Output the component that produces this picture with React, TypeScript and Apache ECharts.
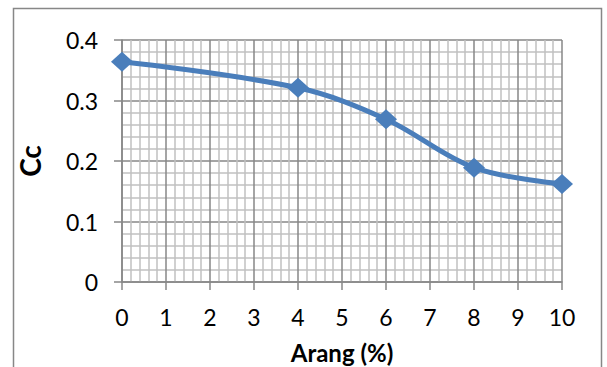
import React, { useEffect, useRef } from "react";
import * as echarts from "echarts";

const arang = [0, 4, 6, 8, 10];
const cc = [0.364, 0.321, 0.269, 0.189, 0.162];
const xTicks = [0, 10, 1];
const yTicks = [0, 0.4, 0.1];
const xName = "Arang (%)";
const yName = "Cc";

export default function App() {
  const ref = useRef<HTMLDivElement>(null);
  useEffect(() => {
    const chart = echarts.init(ref.current!, null, { renderer: "svg" });
    const font = "Lato, 'Open Sans', sans-serif";
    chart.setOption({
      animation: false,
      backgroundColor: "#ffffff",
      textStyle: { fontFamily: font },
      graphic: [
        {
          type: "rect",
          shape: { x: 13.5, y: 8.5, width: 588, height: 400 },
          style: { fill: "none", stroke: "#878787", lineWidth: 1.5 },
          silent: true,
        },
      ],
      grid: {
        left: 122,
        top: 40,
        right: 45,
        bottom: 85,
        containLabel: false,
        outerBoundsMode: "none",
      },
      xAxis: {
        type: "value",
        min: xTicks[0],
        max: xTicks[1],
        interval: xTicks[2],
        name: xName,
        nameLocation: "middle",
        nameGap: 58,
        nameTextStyle: { fontSize: 24, fontWeight: "bold", color: "#000", fontFamily: font },
        axisLine: { show: true, lineStyle: { color: "#878787", width: 1.5 } },
        axisTick: { show: true, length: 8, lineStyle: { color: "#878787", width: 1.5 } },
        axisLabel: { fontSize: 23, color: "#000", margin: 23, fontFamily: font },
        splitLine: { show: true, lineStyle: { color: "#878787", width: 1.5 } },
        minorTick: { show: false, splitNumber: 5 },
        minorSplitLine: { show: true, lineStyle: { color: "#c0c0c0", width: 1.5 } },
      },
      yAxis: {
        type: "value",
        min: yTicks[0],
        max: yTicks[1],
        interval: yTicks[2],
        name: yName,
        nameLocation: "middle",
        nameGap: 78,
        nameRotate: 90,
        nameTextStyle: { fontSize: 28, fontWeight: "bold", color: "#000", fontFamily: font },
        axisLine: { show: true, lineStyle: { color: "#878787", width: 1.5 } },
        axisTick: { show: true, length: 8, lineStyle: { color: "#878787", width: 1.5 } },
        axisLabel: { fontSize: 23, color: "#000", margin: 24, fontFamily: font },
        splitLine: { show: true, lineStyle: { color: "#878787", width: 1.5 } },
        minorTick: { show: false, splitNumber: 5 },
        minorSplitLine: { show: true, lineStyle: { color: "#c0c0c0", width: 1.5 } },
      },
      series: [
        {
          type: "line",
          data: arang.map((x, i) => [x, cc[i]]),
          smooth: 0.35,
          symbol: "diamond",
          symbolSize: [22, 20],
          itemStyle: { color: "#4a7ebb" },
          lineStyle: { color: "#4a7ebb", width: 5 },
        },
      ],
    });
    return () => chart.dispose();
  }, []);
  return (
    <div
      ref={ref}
      style={{ position: "fixed", left: 0, top: 0, width: 607, height: 367 }}
    />
  );
}
